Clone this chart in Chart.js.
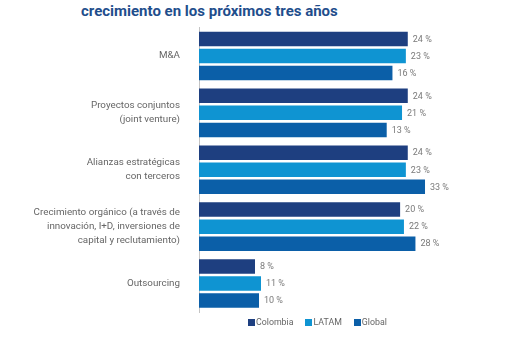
<!DOCTYPE html>
<html lang="es">
<head>
<meta charset="utf-8">
<title>Estrategias de crecimiento</title>
<script src="https://cdn.jsdelivr.net/npm/chart.js@4/dist/chart.umd.min.js"></script>
<style>
  html, body { margin: 0; padding: 0; background: #ffffff; }
  #wrap { position: relative; width: 512px; height: 341px; overflow: hidden; }
  #title {
    position: absolute; left: 81px; top: 4px;
    font: bold 15px Roboto, "Liberation Sans", sans-serif; line-height: 15px;
    color: #1f4e8c; white-space: nowrap;
  }
  #legend {
    position: absolute; left: 248px; top: 317px;
    display: flex; align-items: center;
    font: 8.8px Roboto, "Liberation Sans", sans-serif; color: #666;
  }
  #legend .item { display: flex; align-items: center; margin-right: 12px; }
  #legend .box { width: 7px; height: 7px; margin-right: 1px; }
  canvas { position: absolute; left: 0; top: 0; }
</style>
</head>
<body>
<div id="wrap">
  <div id="title">crecimiento en los próximos tres años</div>
  <canvas id="chart" width="512" height="341"></canvas>
  <div id="legend"></div>
</div>
<script>
// Strategies (category axis)
const categories = [
  'M&A',
  ['Proyectos conjuntos', '(joint venture)'],
  ['Alianzas estratégicas', 'con terceros'],
  ['Crecimiento orgánico (a través de', 'innovación, I+D, inversiones de', 'capital y reclutamiento)'],
  'Outsourcing'
];

// Share of respondents (%) per region
const colombia = [24, 24, 24, 20, 8];
const latam    = [23, 21, 23, 22, 11];
const global   = [16, 13, 33, 28, 10];

const seriesNames  = ['Colombia', 'LATAM', 'Global'];
const seriesColors = ['#1e3f80', '#0f94d2', '#0b5fa8'];
const seriesValues = [colombia, latam, global];

// The long bars are drawn on a broken (offset) axis; the short
// "Outsourcing" group uses its own value axis.
const SHORT_GROUP = categories.length - 1;
const MAIN_MIN = -85, MAIN_MAX = 45;
const SHORT_MIN = -20, SHORT_MAX = 104.5;

const datasets = [];
seriesValues.forEach((vals, s) => {
  datasets.push({
    label: seriesNames[s],
    data: vals.map((v, i) => i === SHORT_GROUP ? null : v),
    backgroundColor: seriesColors[s],
    xAxisID: 'x',
    base: MAIN_MIN
  });
});
seriesValues.forEach((vals, s) => {
  datasets.push({
    label: seriesNames[s],
    data: vals.map((v, i) => i === SHORT_GROUP ? v : null),
    backgroundColor: seriesColors[s],
    xAxisID: 'x2',
    base: SHORT_MIN
  });
});

// Percentage labels to the right of each bar
const valueLabels = {
  id: 'valueLabels',
  afterDatasetsDraw(chart) {
    const ctx = chart.ctx;
    ctx.save();
    ctx.font = '9px Roboto, "Liberation Sans", sans-serif';
    ctx.fillStyle = '#7a7a7a';
    ctx.textAlign = 'left';
    ctx.textBaseline = 'middle';
    chart.data.datasets.forEach((ds, di) => {
      const meta = chart.getDatasetMeta(di);
      meta.data.forEach((bar, i) => {
        const v = ds.data[i];
        if (v === null || v === undefined) return;
        ctx.fillText(v + ' %', bar.x + 5, bar.y + 0.5);
      });
    });
    ctx.restore();
  }
};

const chart = new Chart(document.getElementById('chart'), {
  type: 'bar',
  data: { labels: categories, datasets },
  options: {
    indexAxis: 'y',
    responsive: false,
    animation: false,
    devicePixelRatio: 1,
    skipNull: true,
    categoryPercentage: 0.9,
    barPercentage: 0.85,
    borderWidth: 0,
    layout: { padding: { top: 27.5, bottom: 29, left: 0, right: 64 } },
    plugins: {
      legend: { display: false },
      tooltip: { enabled: false },
      title: { display: false }
    },
    scales: {
      x:  { type: 'linear', min: MAIN_MIN,  max: MAIN_MAX,  display: false },
      x2: { type: 'linear', axis: 'x', min: SHORT_MIN, max: SHORT_MAX, display: false },
      y: {
        grid: { display: false },
        border: { display: true, color: '#c4c4c4', width: 1 },
        ticks: {
          padding: 11,
          color: '#666666',
          font: { family: 'Roboto, "Liberation Sans", sans-serif', size: 9.8, lineHeight: 1.4 }
        },
        afterFit(scale) { scale.width = 199; }
      }
    }
  },
  plugins: [valueLabels]
});

// Legend: one entry per region
const legend = document.getElementById('legend');
seriesNames.forEach((name, s) => {
  const item = document.createElement('div');
  item.className = 'item';
  const box = document.createElement('span');
  box.className = 'box';
  box.style.background = seriesColors[s];
  const txt = document.createElement('span');
  txt.textContent = name;
  item.appendChild(box);
  item.appendChild(txt);
  legend.appendChild(item);
});
</script>
</body>
</html>
